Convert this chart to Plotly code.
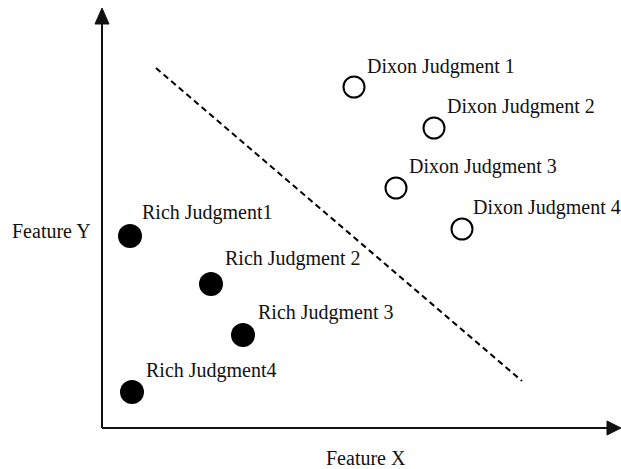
import plotly.graph_objects as go

# Data (feature space, origin at the axes corner)
rich_names = ["Rich Judgment1", "Rich Judgment 2", "Rich Judgment 3", "Rich Judgment4"]
rich_x = [28, 109, 141, 30]
rich_y = [192, 144, 93, 36]

dixon_names = ["Dixon Judgment 1", "Dixon Judgment 2", "Dixon Judgment 3", "Dixon Judgment 4"]
dixon_x = [252, 332, 294, 360]
dixon_y = [341, 300, 240, 199]

boundary_x = [54, 420]
boundary_y = [360, 47]

# label anchors (left edge, vertical centre)
rich_label_x = [38, 121, 154, 42]
rich_label_y = [216, 170, 116, 58]
dixon_label_x = [263, 343, 305, 369]
dixon_label_y = [362, 322, 262, 221]

FONT = "Liberation Serif, Times New Roman, serif"
FS = 20
W, H = 621, 469

fig = go.Figure()
fig.add_trace(go.Scatter(x=boundary_x, y=boundary_y, mode="lines",
                         line=dict(color="black", width=2, dash="6px,4px"),
                         hoverinfo="skip", showlegend=False))
fig.add_trace(go.Scatter(x=rich_x, y=rich_y, mode="markers", name="Rich",
                         marker=dict(size=24, color="black", line=dict(width=0)),
                         showlegend=False))
fig.add_trace(go.Scatter(x=dixon_x, y=dixon_y, mode="markers", name="Dixon",
                         marker=dict(size=21, color="white", line=dict(width=2, color="black")),
                         showlegend=False))

ann = []
for n, x, y in zip(rich_names, rich_label_x, rich_label_y):
    ann.append(dict(x=x, y=y, xref="x", yref="y", text=n, showarrow=False,
                    xanchor="left", yanchor="middle", font=dict(family=FONT, size=FS, color="#111")))
for n, x, y in zip(dixon_names, dixon_label_x, dixon_label_y):
    ann.append(dict(x=x, y=y, xref="x", yref="y", text=n, showarrow=False,
                    xanchor="left", yanchor="middle", font=dict(family=FONT, size=FS, color="#111")))
ann.append(dict(x=51 / W, y=1 - 231 / H, xref="paper", yref="paper", text="Feature Y", showarrow=False,
                xanchor="center", yanchor="middle", font=dict(family=FONT, size=FS, color="#111")))
ann.append(dict(x=366 / W, y=1 - 458 / H, xref="paper", yref="paper", text="Feature X", showarrow=False,
                xanchor="center", yanchor="middle", font=dict(family=FONT, size=FS, color="#111")))

shapes = [
    # y axis shaft and arrowhead
    dict(type="line", xref="x", yref="y", x0=0, y0=0, x1=0, y1=406, line=dict(color="#111", width=2)),
    dict(type="path", xref="x", yref="y", path="M -7,404 L 7,404 L 0,420 Z",
         fillcolor="#111", line=dict(color="#111", width=1)),
    # x axis shaft and arrowhead
    dict(type="line", xref="x", yref="y", x0=0, y0=0, x1=508, y1=0, line=dict(color="#111", width=2)),
    dict(type="path", xref="x", yref="y", path="M 505,-7 L 505,7 L 519,0 Z",
         fillcolor="#111", line=dict(color="#111", width=1)),
]

fig.update_layout(
    width=W, height=H,
    margin=dict(l=0, r=0, t=0, b=0),
    paper_bgcolor="white", plot_bgcolor="white",
    xaxis=dict(range=[-102, 519], visible=False, fixedrange=True),
    yaxis=dict(range=[-41, 428], visible=False, fixedrange=True),
    annotations=ann, shapes=shapes,
)
fig.write_html("out.html", config={"displayModeBar": False},
               post_script="document.body.style.margin='0';document.body.style.overflow='hidden';")
